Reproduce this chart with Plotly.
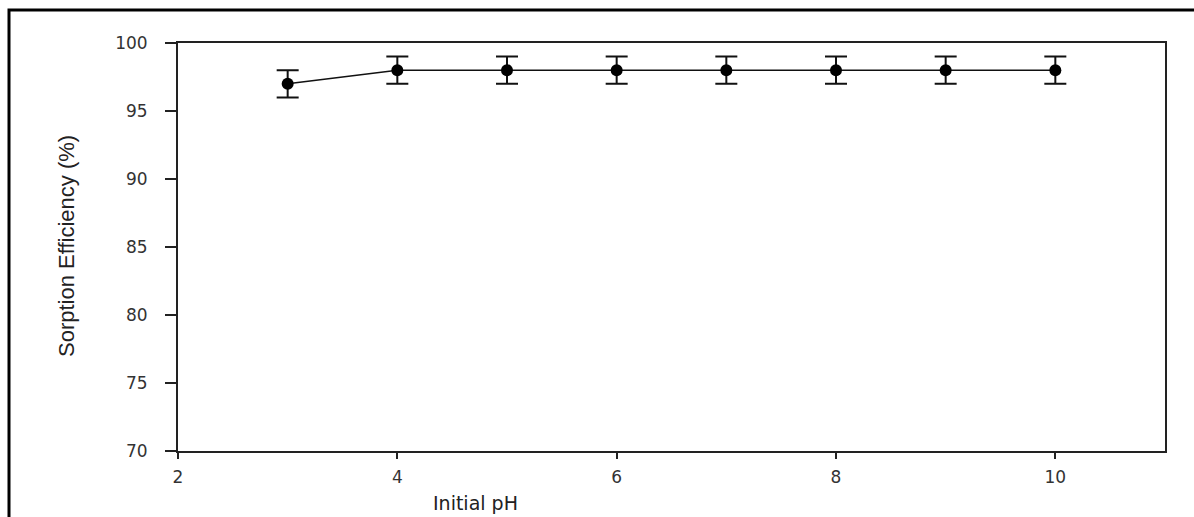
import plotly.graph_objects as go

ph = [3, 4, 5, 6, 7, 8, 9, 10]
efficiency = [97, 98, 98, 98, 98, 98, 98, 98]
error = [1, 1, 1, 1, 1, 1, 1, 1]
x_ticks = [2, 4, 6, 8, 10]
y_ticks = [70, 75, 80, 85, 90, 95, 100]

fig = go.Figure()
fig.add_trace(go.Scatter(
    x=ph, y=efficiency,
    mode="lines+markers",
    line=dict(color="#111111", width=1.5),
    marker=dict(symbol="circle", size=12, color="#000000"),
    error_y=dict(type="data", array=error, visible=True, color="#111111", thickness=2, width=11),
    showlegend=False,
))

L, R, T, B = 178, 29, 43, 66
W, H = 1194, 517
pw, ph_ = W - L - R, H - T - B

def px(xp):
    return (xp - L) / pw

def py(yp):
    return 1 - (yp - T) / ph_

tickfont = dict(family="DejaVu Sans, sans-serif", size=17, color="#333333")

fig.update_layout(
    width=W, height=H,
    margin=dict(l=L, r=R, t=T, b=B),
    paper_bgcolor="white", plot_bgcolor="white",
    font=dict(family="Arial, Liberation Sans, sans-serif", color="#333333"),
    xaxis=dict(range=[2, 11], tickvals=x_ticks, ticks="outside", ticklen=6, tickwidth=2,
               tickcolor="#222222", showline=True, linecolor="#222222", linewidth=2, mirror=True,
               showgrid=False, zeroline=False, tickfont=tickfont,
               ticklabelstandoff=4),
    yaxis=dict(range=[70, 100], tickvals=y_ticks, ticks="outside", ticklen=11, tickwidth=2,
               tickcolor="#222222", showline=True, linecolor="#222222", linewidth=2, mirror=True,
               showgrid=False, zeroline=False, tickfont=tickfont,
               ticklabelstandoff=14),
    shapes=[dict(type="rect", xref="paper", yref="paper",
                 x0=px(9), x1=px(1200), y0=py(540), y1=py(10),
                 line=dict(color="black", width=3), fillcolor="rgba(0,0,0,0)", layer="below")],
    annotations=[
        dict(text="Sorption Efficiency (%)", xref="paper", yref="paper",
             x=px(66), y=py(246), xanchor="center", yanchor="middle", textangle=-90,
             showarrow=False, font=dict(family="Arial, Liberation Sans, sans-serif", size=22, color="#222222")),
        dict(text="Initial pH", xref="paper", yref="paper",
             x=px(475), y=py(503), xanchor="center", yanchor="middle",
             showarrow=False, font=dict(family="DejaVu Sans, sans-serif", size=19, color="#222222")),
    ],
)

fig.write_html("out.html")
